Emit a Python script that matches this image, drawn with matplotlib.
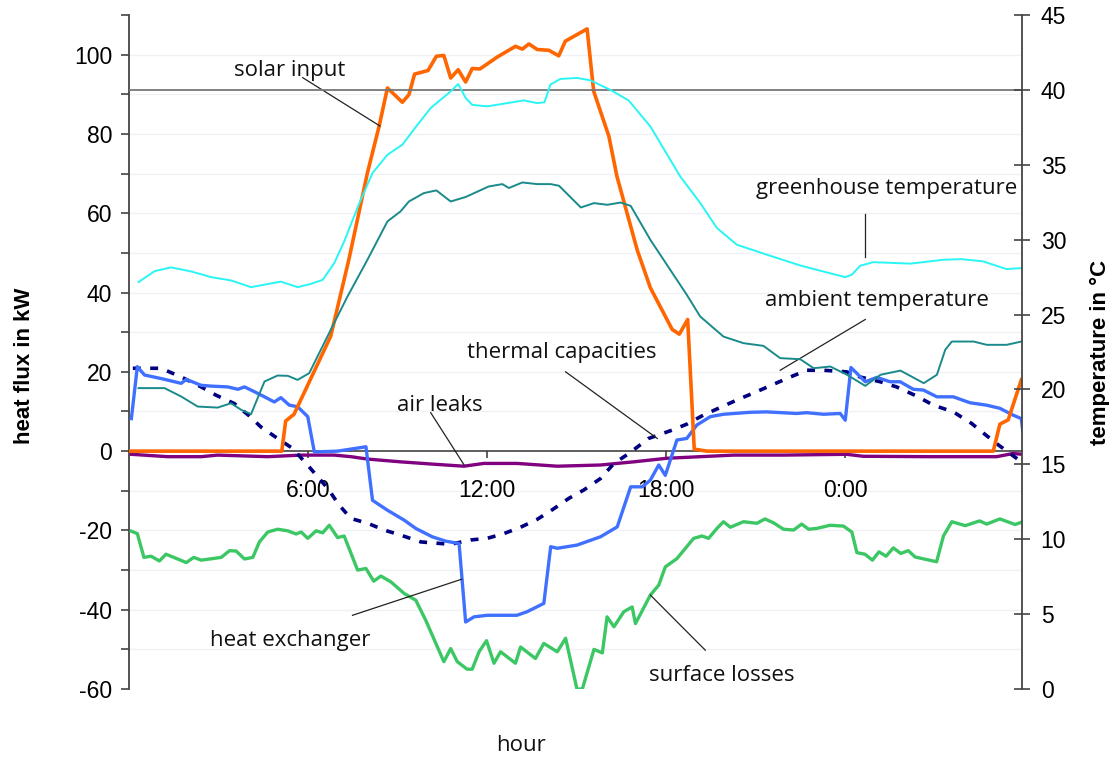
import matplotlib
matplotlib.use("Agg")
import matplotlib.pyplot as plt
from matplotlib.ticker import MultipleLocator, FixedLocator

plt.rcParams['font.family'] = ['Liberation Sans', 'DejaVu Sans']
plt.rcParams['axes.unicode_minus'] = False

# ---------------- data (hours since 0:00, kW / degC) ----------------
solar_h = [0, 5.12, 5.25, 5.53, 6.76, 7.37, 7.99, 8.38, 8.66, 9.16, 9.38, 9.57, 10.02, 10.3,
           10.55, 10.78, 11.03, 11.28, 11.5, 11.76, 12.34, 12.95, 13.18, 13.4, 13.68, 14.07,
           14.4, 14.62, 15.35, 15.57, 16.08, 16.35, 17.03, 17.47, 18.2, 18.44, 18.72, 18.94,
           19.37, 28.96, 29.18, 29.46, 29.9]
solar_kw = [0, 0, 7.6, 9.3, 29, 48.4, 70.2, 81.9, 91.6, 88, 89.9, 95.1, 96, 99.6,
            99.8, 94.1, 96.2, 93.1, 96.5, 96.4, 99.4, 102.1, 101.4, 102.7, 101.3, 101.1,
            99.7, 103.4, 106.5, 90.8, 79.4, 69.3, 50.7, 41.2, 30.7, 29.5, 33.2, 0.5,
            0, 0, 6.8, 7.9, 18]

gh_h = [0.32, 0.86, 1.41, 2.08, 2.75, 3.42, 4.09, 5.09, 5.65, 6.1, 6.49, 6.88, 7.21, 7.71,
        8.16, 8.66, 9.16, 9.67, 10.11, 10.78, 11.03, 11.28, 11.5, 12.0, 12.56, 13.23, 13.67,
        13.92, 14.12, 14.45, 15.01, 15.46, 16.13, 16.74, 17.47, 18.47, 19.14, 19.7, 20.37,
        21.37, 22.49, 23.39, 24.0, 24.22, 24.5, 24.94, 26.18, 27.29, 27.9, 28.62, 29.4, 29.9]
gh_t = [27.17, 27.9, 28.15, 27.88, 27.5, 27.28, 26.83, 27.2, 26.83, 27.05, 27.32, 28.44, 29.88,
        32.4, 34.45, 35.67, 36.34, 37.68, 38.79, 39.9, 40.39, 39.46, 39.0, 38.9, 39.08, 39.3,
        39.12, 39.17, 40.35, 40.73, 40.8, 40.64, 40.0, 39.3, 37.56, 34.22, 32.45, 30.78, 29.66,
        29.0, 28.28, 27.81, 27.5, 27.66, 28.26, 28.5, 28.4, 28.66, 28.7, 28.55, 28.04, 28.1]

amb_h = [0.32, 1.19, 1.75, 2.3, 2.97, 3.42, 3.76, 4.09, 4.54, 4.98, 5.32, 5.65, 6.04, 6.76,
         7.32, 7.99, 8.66, 9.1, 9.38, 9.88, 10.3, 10.78, 11.28, 12.05, 12.51, 12.73, 13.18,
         13.68, 14.13, 14.41, 15.14, 15.58, 16.03, 16.47, 16.81, 17.47, 18.69, 19.14, 19.92,
         20.59, 21.26, 21.82, 22.49, 22.94, 23.5, 24.06, 24.67, 25.18, 25.85, 26.63, 27.07,
         27.35, 27.57, 28.3, 28.74, 29.41, 29.9]
amb_t = [20.09, 20.09, 19.53, 18.86, 18.79, 19.08, 18.64, 18.35, 20.53, 20.93, 20.91, 20.64,
         21.09, 23.98, 26.2, 28.66, 31.22, 31.89, 32.55, 33.11, 33.29, 32.55, 32.85, 33.55,
         33.71, 33.45, 33.82, 33.71, 33.71, 33.6, 32.15, 32.44, 32.33, 32.48, 32.26, 29.99,
         26.32, 24.87, 23.53, 23.09, 22.91, 22.09, 22.02, 21.42, 21.53, 20.98, 20.24, 20.98,
         21.26, 20.42, 20.98, 22.65, 23.2, 23.2, 22.98, 22.98, 23.2]

hx_h = [0.08, 0.28, 0.52, 1.08, 1.75, 1.92, 2.42, 2.75, 3.31, 3.65, 3.87, 4.2, 4.54, 4.87,
        5.09, 5.37, 5.65, 5.99, 6.21, 6.99, 7.94, 8.16, 8.66, 9.22, 9.61, 10.16, 10.61, 11.06,
        11.28, 11.56, 12.0, 13.0, 13.34, 13.9, 14.13, 14.35, 15.01, 15.8, 16.36, 16.81, 17.2,
        17.47, 17.75, 17.97, 18.36, 18.69, 19.03, 19.48, 19.92, 20.82, 21.37, 22.37, 22.71,
        23.27, 23.83, 24.0, 24.19, 24.67, 25.06, 25.5, 25.84, 26.28, 26.62, 27.07, 27.62,
        28.18, 28.73, 29.18, 29.62, 29.9, 29.95]
hx_kw = [8.2, 21.3, 19.2, 18.3, 17.1, 18.1, 16.6, 16.4, 16.2, 15.6, 16.2, 15.0, 13.7, 12.4,
         13.5, 11.6, 11.2, 8.7, -0.2, 0, 1.1, -12.4, -14.9, -17.4, -19.5, -21.6, -22.7, -23.3,
         -43.1, -41.8, -41.4, -41.4, -40.5, -38.4, -24.1, -24.5, -23.7, -21.6, -19.1, -9.0, -9.0,
         -7.3, -3.5, -6.1, 2.8, 3.2, 6.6, 8.7, 9.3, 9.8, 9.9, 9.5, 9.7,
         9.3, 9.5, 7.8, 21.1, 17.5, 18.6, 17.5, 17.5, 15.6, 15.4, 13.7, 13.7,
         12.2, 11.6, 10.8, 9.1, 8.2, 4.9]

tc_h = [0.13, 1.07, 1.75, 2.42, 2.92, 3.53, 4.03, 4.42, 4.98, 5.48, 6.04, 6.66, 7.04, 7.44,
        8.0, 8.55, 9.11, 9.78, 10.78, 11.45, 12.0, 12.56, 13.12, 13.68, 14.24, 14.74, 15.24,
        15.8, 16.25, 16.75, 17.41, 18.2, 18.69, 19.25, 20.37, 21.03, 22.16, 22.71, 23.27,
        24.05, 24.5, 25.17, 25.72, 26.39, 26.95, 27.62, 28.23, 28.62, 29.07, 29.52, 29.9]
tc_kw = [20.9, 20.9, 18.7, 16.2, 14.1, 12.0, 8.9, 6.1, 3.2, 0.7, -4.0, -9.4, -13.6, -17.0,
         -18.2, -19.9, -21.2, -22.9, -23.5, -22.4, -22.0, -20.8, -19.2, -17.2, -14.5, -11.9,
         -9.8, -6.9, -3.1, -0.6, 3.2, 5.3, 6.8, 9.1, 12.9, 15.0, 18.7, 20.4, 20.4,
         20.0, 18.7, 17.5, 16.2, 13.9, 11.6, 9.9, 7.0, 4.6, 1.9, -0.6, -2.7]

al_h = [0.08, 1.3, 2.42, 2.97, 4.65, 5.77, 6.88, 7.44, 7.99, 9.1, 10.22, 11.22, 11.89, 13.0,
        14.35, 15.8, 16.91, 18.02, 19.14, 20.26, 21.93, 24.05, 24.6, 26.83, 29.07, 29.62, 29.95]
al_kw = [-0.8, -1.4, -1.4, -1.0, -1.4, -1.0, -1.0, -1.4, -2.0, -2.7, -3.3, -3.8, -3.1, -3.1,
         -3.8, -3.5, -2.7, -1.8, -1.4, -1.0, -1.0, -0.8, -1.3, -1.4, -1.4, -0.6, -0.8]

sl_h = [0.08, 0.28, 0.5, 0.74, 1.02, 1.24, 1.92, 2.17, 2.42, 3.09, 3.37, 3.59, 3.87, 4.15,
        4.37, 4.65, 4.98, 5.32, 5.6, 5.77, 5.99, 6.27, 6.49, 6.71, 6.99, 7.21, 7.66, 7.94,
        8.2, 8.44, 8.78, 9.22, 9.61, 9.94, 10.55, 10.78, 11.0, 11.33, 11.5, 11.73, 11.98,
        12.23, 12.45, 12.95, 13.12, 13.62, 13.9, 14.35, 14.63, 15.01, 15.19, 15.58, 15.86,
        16.02, 16.25, 16.58, 16.86, 16.97, 17.47, 17.75, 17.97, 18.36, 18.92, 19.2, 19.42,
        19.7, 19.92, 20.15, 20.59, 21.04, 21.31, 21.6, 21.93, 22.27, 22.54, 22.77, 23.04,
        23.49, 23.94, 24.22, 24.39, 24.66, 24.91, 25.13, 25.37, 25.61, 25.86, 26.11, 26.34,
        27.06, 27.29, 27.57, 28.02, 28.5, 28.74, 29.18, 29.69, 29.96]
sl_kw = [-20.2, -20.8, -26.8, -26.5, -27.7, -26.0, -28.1, -26.8, -27.5, -26.8, -25.1, -25.2,
         -27.2, -26.8, -22.9, -20.4, -19.7, -20.1, -20.9, -20.4, -22.0, -20.1, -20.6, -18.7,
         -21.8, -21.4, -30.0, -29.6, -32.8, -31.5, -33.0, -35.9, -37.6, -42.6, -53.1, -49.8,
         -53.1, -55.0, -55.0, -50.6, -47.8, -53.5, -50.6, -53.5, -49.4, -52.3, -48.5, -50.6,
         -47.2, -60.0, -60.0, -50.0, -50.9, -41.8, -44.3, -40.5, -39.3, -43.5, -36.3, -33.8,
         -29.2, -27.1, -22.0, -21.4, -22.0, -19.5, -17.8, -19.2, -17.8, -18.2, -17.1, -18.1,
         -19.7, -19.9, -18.4, -19.7, -19.5, -18.7, -18.9, -20.4, -25.6, -26.0, -27.5, -25.4,
         -26.5, -24.4, -25.8, -25.1, -26.7, -27.9, -21.4, -17.8, -18.8, -17.6, -18.4, -17.1,
         -18.5, -17.8]

hour_ticks = [6, 12, 18, 24]
hour_labels = ['6:00', '12:00', '18:00', '0:00']

# ---------------- figure ----------------
fig = plt.figure(figsize=(11.09, 7.58), dpi=100)
ax = fig.add_axes([0.1163, 0.0910, 0.8052, 0.8892])
ax2 = ax.twinx()

axis_col = '#444444'
ann_font = dict(family=['Open Sans', 'DejaVu Sans'], fontsize=16, color='#111111')

ax.set_xlim(0, 29.92)
ax.set_ylim(-60, 110)
ax2.set_ylim(0, 45)

# faint horizontal grid every 10 kW
for v in range(-50, 110, 10):
    if v != 0:
        ax.axhline(v, color='#f0f0f7', lw=1, zorder=0)

ax.plot(sl_h, sl_kw, color='#3cc765', lw=2.4, zorder=3)
ax.plot(al_h, al_kw, color='#800080', lw=2.4, zorder=3)
ax.plot(tc_h, tc_kw, color='#000080', lw=2.6, ls=(0, (2.2, 2.6)), zorder=3)
ax.plot(hx_h, hx_kw, color='#4070ff', lw=2.4, zorder=3)
ax.plot(solar_h, solar_kw, color='#ff6600', lw=2.6, zorder=4)

ax2.axhline(40, color='#777777', lw=1.3, zorder=1)
ax2.plot(gh_h, gh_t, color='#2af5f5', lw=1.4, zorder=2)
ax2.plot(amb_h, amb_t, color='#1a8a8a', lw=1.4, zorder=2)

# ---------------- axes styling ----------------
for a in (ax, ax2):
    a.spines['top'].set_visible(False)
ax.spines['right'].set_visible(False)
ax2.spines['left'].set_visible(False)
ax2.spines['bottom'].set_visible(False)
ax.spines['left'].set_color(axis_col)
ax.spines['left'].set_linewidth(1.3)
ax2.spines['right'].set_color(axis_col)
ax2.spines['right'].set_linewidth(1.3)
ax.spines['bottom'].set_position(('data', 0))
ax.spines['bottom'].set_color('#333333')
ax.spines['bottom'].set_linewidth(1.1)

ax.yaxis.set_major_locator(MultipleLocator(20))
ax.yaxis.set_minor_locator(MultipleLocator(10))
ax.tick_params(axis='y', which='both', direction='out', length=6, width=1.2,
               color=axis_col, labelsize=16.5, pad=6)
ax.xaxis.set_major_locator(FixedLocator(hour_ticks))
ax.set_xticklabels(hour_labels)
ax.tick_params(axis='x', direction='out', length=5, width=1.1, color='#333333',
               labelsize=16.5, pad=15)

ax2.yaxis.set_major_locator(MultipleLocator(5))
ax2.tick_params(axis='y', direction='inout', length=11, width=1.2, color=axis_col,
                labelsize=16.5, pad=8)

ax.set_ylabel('heat flux in kW', fontsize=16, fontweight='bold')
ax.yaxis.set_label_coords(-0.105, 0.48)
ax2.set_ylabel('temperature in °C', fontsize=16, fontweight='bold')
ax2.yaxis.set_label_coords(1.076, 0.50)
fig.text(0.47, 0.017, 'hour', ha='center', va='center', **ann_font)

# ---------------- annotations ----------------
def note(text, txt_xy, line_from, line_to):
    ax.plot([line_from[0], line_to[0]], [line_from[1], line_to[1]], color='#222222',
            lw=0.9, zorder=5)
    ax.text(txt_xy[0], txt_xy[1], text, ha='center', va='center', zorder=6, **ann_font)

note('solar input', (5.39, 96.1), (5.82, 94.2), (8.41, 82.0))
note('greenhouse temperature', (25.37, 66.3), (24.67, 59.8), (24.67, 49.0))
note('ambient temperature', (25.07, 38.1), (24.67, 33.2), (21.82, 20.4))
note('thermal capacities', (14.51, 25.0), (14.63, 20.0), (17.7, 3.2))
note('air leaks', (10.42, 11.6), (10.11, 9.7), (11.23, -3.5))
note('heat exchanger', (5.4, -47.7), (7.49, -41.4), (11.15, -32.3))
note('surface losses', (19.87, -56.7), (19.31, -50.2), (17.47, -36.3))

fig.savefig('out.png', dpi=100)
